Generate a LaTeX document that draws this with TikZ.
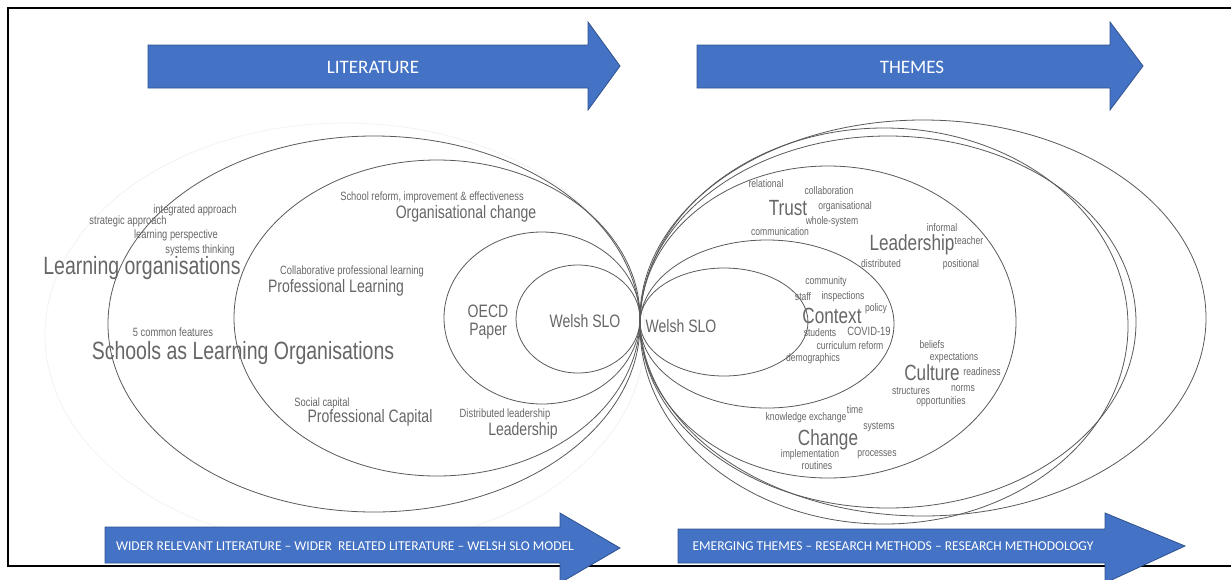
\documentclass[tikz,border=0pt]{standalone}
\usepackage{fontspec}
\setmainfont{Liberation Sans}
\newfontfamily\cloudfont[FakeStretch=0.78]{Liberation Sans}
\newfontfamily\bandfont[Ligatures=TeX]{Carlito}
\definecolor{bandblue}{RGB}{68,114,196}
\definecolor{bandedge}{RGB}{47,82,143}

\begin{document}
\begin{tikzpicture}[x=1pt, y=-1pt,
  ring/.style={draw=black!65, line width=0.8pt},
  band/.style={fill=bandblue, draw=bandedge, line width=0.8pt},
  bandtext/.style={text=white, inner sep=0pt, font=\bandfont\fontsize{19}{19}\selectfont},
  bandsmall/.style={bandtext, font=\bandfont\fontsize{13.5}{13.5}\selectfont},
  word/.style={text=black!60, inner sep=0pt, font=\cloudfont\fontsize{12}{12}\selectfont},
  tinyword/.style={word, font=\cloudfont\fontsize{11}{11}\selectfont},
  midword/.style={word, font=\cloudfont\fontsize{18}{18}\selectfont},
  bigword/.style={word, font=\cloudfont\fontsize{25}{25}\selectfont},
  themeword/.style={word, font=\cloudfont\fontsize{22}{22}\selectfont}]

  \useasboundingbox (0,0) rectangle (1231,579);

  % Frame
  \draw[line width=1.2pt] (1231,8) -- (8,8) -- (8,566) -- (1231,566);

  % Left rings
  \draw[draw=black!5, line width=0.8pt] (345,335) ellipse [x radius=300, y radius=212];
  \draw[ring] (374,324) ellipse [x radius=266, y radius=188];
  \draw[ring] (437,318) ellipse [x radius=203, y radius=158];
  \draw[ring] (542,318) ellipse [x radius=98, y radius=86];
  \draw[ring] (578,319) ellipse [x radius=62, y radius=54];

  % Right rings
  \draw[ring] (724,322) ellipse [x radius=84, y radius=54];
  \draw[ring] (767,324) ellipse [x radius=127, y radius=84];
  \draw[ring] (828,322) ellipse [x radius=188, y radius=156];
  \draw[ring] (888,322) ellipse [x radius=248, y radius=186];
  \draw[ring] (884,326) ellipse [x radius=244, y radius=198];
  \draw[ring] (923,318) ellipse [x radius=283, y radius=198];

  % Top arrows
  \draw[band] (148,45) -- (588,45) -- (588,22) -- (620,66) -- (588,110) -- (588,88) -- (148,88) -- cycle;
  \node[bandtext] (lit) at (373,67) {LITERATURE};
  \draw[band] (697,45) -- (1110,45) -- (1110,22) -- (1143,66) -- (1110,110) -- (1110,88) -- (697,88) -- cycle;
  \node[bandtext] (themes) at (912,67) {THEMES};

  % Bottom arrows
  \draw[band] (105,527) -- (560,527) -- (560,513) -- (620,548) -- (560,583) -- (560,563) -- (105,563) -- cycle;
  \node[bandsmall] (widerlit) at (345,546) {WIDER RELEVANT LITERATURE – WIDER\ \ RELATED LITERATURE – WELSH SLO MODEL};
  \draw[band] (678,529) -- (1105,529) -- (1105,513) -- (1185,546) -- (1105,583) -- (1105,563) -- (678,563) -- cycle;
  \node[bandsmall] (emerging) at (893,546) {EMERGING THEMES – RESEARCH METHODS – RESEARCH METHODOLOGY};

  % Literature words
  \node[word] (intapp) at (195,210) {integrated approach};
  \node[word] (stratapp) at (128,221) {strategic approach};
  \node[word] (learnpers) at (176,235) {learning perspective};
  \node[word] (systhink) at (200,250) {systems thinking};
  \node[bigword] (learnorg) at (142,268) {Learning organisations};
  \node[word] (reform) at (432,197) {School reform, improvement \& effectiveness};
  \node[midword] (orgchange) at (466,214) {Organisational change};
  \node[word] (collab) at (352,271) {Collaborative professional learning};
  \node[midword] (proflearn) at (336,288) {Professional Learning};
  \node[word] (features) at (173,332) {5 common features};
  \node[bigword] (slo) at (243,353) {Schools as Learning Organisations};
  \node[word] (social) at (322,403) {Social capital};
  \node[midword] (profcap) at (370,418) {Professional Capital};
  \node[word] (distlead) at (505,414) {Distributed leadership};
  \node[midword] (leadl) at (523,431) {Leadership};
  \node[midword, align=center] (oecd) at (488,322) {OECD\\Paper};
  \node[midword] (welshl) at (585,321) {Welsh SLO};

  % Theme words
  \node[midword] (welshr) at (681,326) {Welsh SLO};
  \node[tinyword] (relational) at (766,184) {relational};
  \node[tinyword] (collabr) at (829,191) {collaboration};
  \node[themeword] (trust) at (788,208) {Trust};
  \node[tinyword] (orgnl) at (845,207) {organisational};
  \node[tinyword] (whole) at (832,222) {whole-system};
  \node[tinyword] (comm) at (780,232) {communication};
  \node[tinyword] (informal) at (942,228) {informal};
  \node[themeword] (leadr) at (912,245) {Leadership};
  \node[tinyword] (teacher) at (969,241) {teacher};
  \node[tinyword] (distrib) at (881,264) {distributed};
  \node[tinyword] (positional) at (961,265) {positional};
  \node[tinyword] (community) at (826,282) {community};
  \node[tinyword] (staff) at (803,297) {staff};
  \node[tinyword] (inspect) at (843,297) {inspections};
  \node[themeword] (context) at (832,316) {Context};
  \node[tinyword] (policy) at (876,309) {policy};
  \node[tinyword] (students) at (820,333) {students};
  \node[word] (covid) at (869,331) {COVID-19};
  \node[tinyword] (curric) at (850,346) {curriculum reform};
  \node[tinyword] (demog) at (813,359) {demographics};
  \node[tinyword] (beliefs) at (932,345) {beliefs};
  \node[tinyword] (expect) at (954,358) {expectations};
  \node[themeword] (culture) at (932,373) {Culture};
  \node[tinyword] (ready) at (982,372) {readiness};
  \node[tinyword] (struct) at (911,391) {structures};
  \node[tinyword] (norms) at (963,389) {norms};
  \node[tinyword] (opport) at (941,402) {opportunities};
  \node[tinyword] (time) at (855,410) {time};
  \node[tinyword] (knowex) at (806,418) {knowledge exchange};
  \node[tinyword] (systems) at (879,427) {systems};
  \node[themeword] (change) at (828,440) {Change};
  \node[tinyword] (implem) at (810,455) {implementation};
  \node[tinyword] (process) at (877,455) {processes};
  \node[tinyword] (routines) at (817,466) {routines};

\end{tikzpicture}
\end{document}
